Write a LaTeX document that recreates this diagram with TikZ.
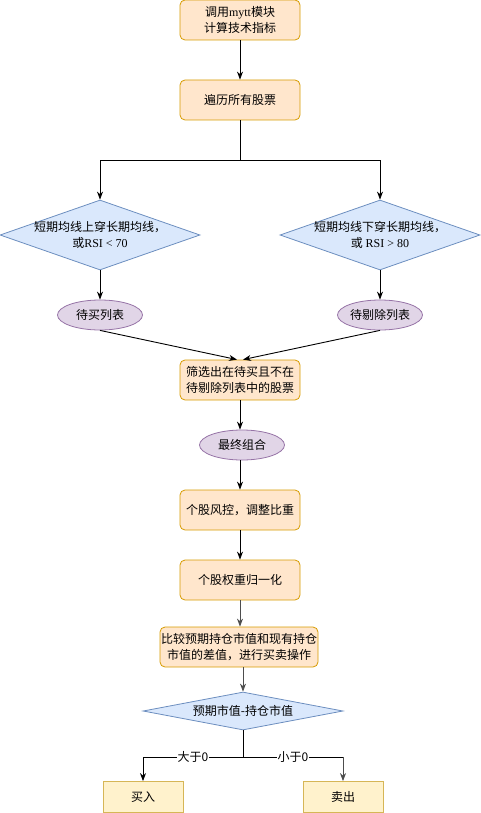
\documentclass[tikz,border=0pt]{standalone}
\usepackage{fontspec}
\setmainfont{Noto Sans CJK SC}
\newfontfamily\latserif{Liberation Serif}
\usetikzlibrary{shapes.geometric,arrows.meta}
\definecolor{orfill}{HTML}{FFE6CC}
\definecolor{orline}{HTML}{D79B00}
\definecolor{bluefill}{HTML}{DAE8FC}
\definecolor{blueline}{HTML}{6C8EBF}
\definecolor{purfill}{HTML}{E1D5E7}
\definecolor{purline}{HTML}{9673A6}
\definecolor{yelfill}{HTML}{FFF2CC}
\definecolor{yelline}{HTML}{D6B656}
\definecolor{greyline}{HTML}{4D4D4D}
\begin{document}
\begin{tikzpicture}[x=1pt,y=-1pt,
  txt/.style={font=\fontsize{12}{15.5}\selectfont, align=center, text=black},
  procbox/.style={txt, draw=orline, fill=orfill, rounded corners=5pt, minimum width=120pt, minimum height=40pt, inner sep=1pt, line width=0.8pt},
  widebox/.style={procbox, minimum width=157pt},
  decbox/.style={draw=blueline, fill=bluefill, diamond, minimum width=200pt, minimum height=70pt, inner sep=0pt, line width=0.8pt},
  listoval/.style={txt, draw=purline, fill=purfill, ellipse, minimum width=85pt, minimum height=30pt, inner sep=0pt, line width=0.8pt},
  actbox/.style={txt, draw=yelline, fill=yelfill, minimum width=80pt, minimum height=31pt, inner sep=0pt, line width=0.8pt},
  arr/.style={draw, line width=0.9pt, -{Stealth[length=8pt,width=6pt,inset=2.5pt]}},
  plainline/.style={draw, line width=0.9pt},
  lab/.style={txt, fill=white, inner sep=1pt}
]
\useasboundingbox (0,0) rectangle (481,813);

\node[procbox] (calc) at (240,20) {调用{\latserif mytt}模块\\计算技术指标};
\node[procbox] (loop) at (240,100) {遍历所有股票};
\coordinate (split) at (240,160);

\node[decbox] (upx) at (100,235) {};
\node[txt] (upxt) at (100,235) {短期均线上穿长期均线，\\或{\latserif RSI < 70}};
\node[decbox] (downx) at (380,235) {};
\node[txt] (downxt) at (380,235) {短期均线下穿长期均线，\\或 {\latserif RSI > 80}};

\node[listoval] (buylist) at (100,315) {待买列表};
\node[listoval] (sellist) at (380,315) {待剔除列表};

\node[procbox] (filter) at (240,380) {筛选出在待买且不在\\待剔除列表中的股票};
\node[listoval] (final) at (242,445) {最终组合};
\node[procbox] (risk) at (240,510) {个股风控，调整比重};
\node[procbox] (norm) at (240,580) {个股权重归一化};
\node[widebox] (compare) at (239,647) {比较预期持仓市值和现有持仓\\市值的差值，进行买卖操作};

\node[decbox, minimum height=38pt] (diff) at (243,711) {};
\node[txt] (difft) at (243,711) {预期市值-持仓市值};
\coordinate (split2) at (243,757);

\node[actbox] (buy) at (143,797) {买入};
\node[actbox] (sell) at (343,797) {卖出};

\draw[arr] (calc) -- (loop);
\draw[plainline] (loop) -- (split);
\draw[arr] (split) -| (upx.north);
\draw[arr] (split) -| (downx.north);
\draw[arr] (upx.south) -- (buylist.north);
\draw[arr] (downx.south) -- (sellist.north);
\draw[arr] (buylist.south) -- ([xshift=-3pt]filter.north);
\draw[arr] (sellist.south) -- ([xshift=3pt]filter.north);
\draw[arr] (filter.south) -- (filter.south |- final.north);
\draw[arr] (final.south -| risk.south) -- (risk.north);
\draw[arr] (risk) -- (norm);
\draw[arr, greyline] (norm) -- (compare.north -| norm.south);
\draw[arr, greyline] (compare.south -| diff.north) -- (diff.north);
\draw[plainline] (diff.south) -- (split2);
\draw[arr] (split2) -| node[lab, pos=0.25] {大于0} (buy.north);
\draw[plainline] (split2) -- node[lab] {小于0} (sell.north |- split2);
\draw[arr, greyline] (sell.north |- split2) -- (sell.north);
\end{tikzpicture}
\end{document}
